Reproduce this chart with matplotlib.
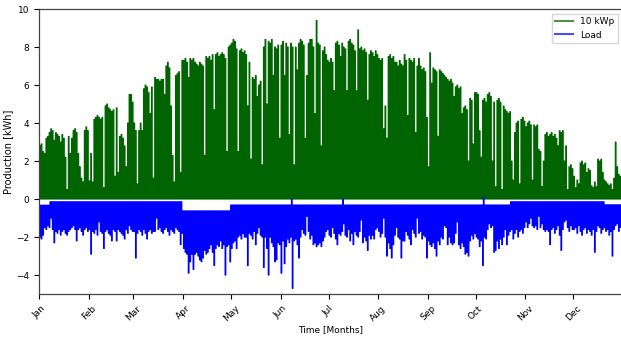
import numpy as np
import pandas as pd
import matplotlib
matplotlib.use('Agg')
import matplotlib.pyplot as plt
import matplotlib.dates as mdates
from matplotlib.lines import Line2D

# daily peak of PV production [kWh] (10 kWp system)
pv_jan = [2.8, 2.9, 2.5, 2.4, 3.2, 3.3, 3.5, 3.7, 3.6, 3.1, 3.5, 3.4, 3.3, 3.0, 3.4, 3.2,
          2.2, 0.5, 3.3, 2.4, 3.2, 3.6, 3.7, 3.5, 2.4, 1.7, 1.1, 0.9, 3.6, 3.8, 3.6]
pv_feb = [0.95, 2.4, 0.9, 4.2, 4.3, 4.4, 4.3, 4.2, 4.3, 0.6, 4.9, 5.0, 4.8, 4.7, 4.6, 4.7,
          1.2, 4.8, 1.4, 3.3, 3.4, 3.2, 2.8, 1.7, 4.0, 5.5, 5.5, 5.1]
pv_mar = [4.0, 3.6, 0.8, 3.6, 4.0, 3.6, 5.8, 6.0, 5.9, 5.6, 4.5, 5.9, 1.1, 6.4, 6.3, 6.3,
          6.2, 6.3, 6.3, 5.5, 7.0, 7.2, 6.9, 4.9, 2.3, 0.9, 6.5, 6.6, 6.7, 1.4, 7.3]
pv_apr = [7.3, 7.4, 7.2, 6.4, 7.4, 7.3, 7.4, 7.2, 7.1, 7.0, 7.2, 7.1, 7.0, 2.3, 7.5, 7.4,
          7.5, 7.3, 7.6, 4.7, 7.6, 7.7, 7.5, 7.6, 7.7, 7.6, 7.4, 2.5, 8.0, 8.1]
pv_may = [8.2, 8.4, 8.3, 7.9, 2.5, 7.8, 7.9, 7.7, 7.8, 7.6, 4.9, 7.2, 2.1, 6.4, 6.3, 6.5,
          5.4, 6.0, 6.2, 1.8, 8.0, 8.4, 5.0, 8.3, 8.2, 8.4, 6.5, 8.0, 7.9, 8.1, 3.2]
pv_jun = [8.1, 8.3, 6.5, 8.2, 8.0, 3.4, 8.2, 8.0, 1.8, 8.0, 6.8, 8.2, 8.4, 8.3, 8.1, 3.2,
          6.5, 8.2, 8.4, 8.4, 8.0, 4.5, 9.4, 8.2, 8.1, 2.8, 7.8, 8.0, 7.6, 7.3]
pv_jul = [7.2, 7.4, 7.2, 5.7, 8.2, 8.3, 8.1, 7.5, 8.2, 8.0, 7.9, 5.7, 8.3, 8.4, 8.2, 8.1,
          7.8, 5.7, 8.9, 7.9, 8.0, 7.8, 7.9, 7.7, 5.2, 7.6, 7.8, 7.7, 7.5, 7.8, 7.6]
pv_aug = [7.4, 7.3, 7.4, 3.7, 4.9, 3.2, 7.5, 7.6, 7.4, 7.5, 7.2, 7.2, 7.0, 7.3, 7.1, 7.0,
          7.6, 7.3, 4.4, 7.4, 7.3, 7.2, 7.4, 3.5, 7.0, 7.4, 7.0, 6.8, 6.9, 6.7, 4.3]
pv_sep = [1.7, 7.7, 6.1, 6.9, 6.8, 6.7, 3.3, 6.8, 6.7, 6.6, 6.5, 6.4, 6.3, 6.2, 6.3, 6.1,
          5.4, 5.9, 6.0, 5.8, 5.9, 4.5, 4.8, 4.9, 4.7, 2.0, 5.3, 5.2, 2.9, 5.6]
pv_oct = [5.6, 5.5, 3.6, 2.2, 5.2, 5.3, 5.1, 5.5, 5.6, 5.4, 2.0, 5.1, 0.65, 5.2, 5.3, 5.1,
          0.5, 4.9, 4.7, 4.6, 4.5, 4.6, 2.0, 1.0, 3.5, 4.0, 4.1, 0.8, 4.2, 4.3, 4.1]
pv_nov = [3.8, 4.0, 4.1, 3.9, 1.0, 3.9, 3.8, 3.9, 2.6, 2.5, 0.65, 2.0, 3.4, 3.5, 3.3, 3.4,
          3.5, 3.3, 3.4, 3.2, 2.8, 3.6, 3.5, 3.6, 2.0, 2.8, 0.5, 1.7, 1.8, 1.6]
pv_dec = [1.2, 0.6, 1.0, 0.8, 1.9, 2.0, 1.8, 1.9, 1.4, 1.6, 1.5, 0.7, 0.6, 0.9, 0.65, 2.1,
          2.0, 2.1, 1.4, 1.0, 0.9, 0.8, 0.7, 0.8, 0.5, 1.1, 3.0, 1.7, 1.3, 1.2, 1.3]

# daily minimum of the load (drawn negative) [kWh]
ld_jan = [-2.0, -2.1, -1.9, -1.5, -1.6, -1.4, -1.5, -1.0, -1.6, -2.3, -1.7, -1.8, -1.6, -1.9,
          -1.7, -1.6, -1.8, -1.9, -1.7, -1.6, -1.5, -1.4, -1.6, -2.2, -1.6, -1.5, -1.7, -1.9,
          -1.6, -1.5, -1.7]
ld_feb = [-1.6, -2.9, -1.7, -1.8, -1.6, -1.9, -1.2, -1.7, -1.8, -2.6, -1.7, -1.6, -1.8, -1.9,
          -2.2, -1.6, -1.7, -2.2, -1.6, -1.7, -1.8, -1.9, -2.1, -1.6, -1.8, -1.4, -1.6, -1.7]
ld_mar = [-1.7, -3.1, -1.8, -1.6, -1.7, -1.9, -1.6, -1.8, -2.1, -1.7, -1.6, -1.8, -1.7, -1.7,
          -1.0, -1.6, -1.5, -1.7, -1.8, -1.6, -1.5, -1.7, -1.9, -1.6, -1.7, -1.8, -1.5, -1.6,
          -1.7, -2.4, -1.8]
ld_apr = [-2.6, -2.8, -2.9, -3.9, -3.3, -2.9, -3.7, -2.9, -2.8, -3.0, -3.2, -3.3, -3.1, -2.7,
          -2.9, -2.8, -2.6, -2.4, -2.8, -3.5, -2.6, -2.4, -2.5, -2.2, -2.6, -2.4, -4.0, -2.5,
          -2.4, -3.3]
ld_may = [-2.6, -2.3, -2.2, -2.6, -2.0, -1.9, -2.1, -1.8, -2.0, -2.0, -3.5, -1.8, -1.9, -2.1,
          -1.7, -2.4, -1.8, -1.5, -1.9, -2.0, -3.6, -2.0, -2.6, -4.0, -2.0, -2.3, -2.5, -3.3,
          -3.2, -2.3, -2.4]
ld_jun = [-3.9, -2.2, -3.4, -2.5, -2.1, -2.3, -2.0, -4.7, -2.2, -2.1, -2.4, -3.1, -2.0, -1.6,
          -1.8, -1.9, -0.9, -1.7, -2.1, -1.9, -2.4, -2.3, -2.5, -2.4, -2.3, -2.5, -2.2, -2.0,
          -1.7, -1.6]
ld_jul = [-1.9, -2.0, -1.5, -1.8, -2.1, -2.4, -1.8, -1.9, -1.7, -1.3, -1.9, -2.0, -1.6, -2.2,
          -1.8, -2.4, -1.7, -1.9, -2.0, -1.7, -1.1, -2.3, -2.0, -2.2, -2.7, -1.9, -2.1, -1.9,
          -2.1, -1.6, -1.5]
ld_aug = [-1.7, -2.0, -1.8, -1.0, -2.0, -3.0, -2.3, -2.6, -3.1, -2.4, -1.9, -1.5, -2.0, -2.1,
          -3.1, -2.2, -2.2, -1.7, -1.9, -2.1, -2.4, -1.6, -1.8, -2.0, -1.0, -1.8, -1.7, -2.1,
          -1.9, -2.0, -3.1]
ld_sep = [-2.2, -2.4, -2.5, -2.3, -2.6, -3.0, -2.2, -2.4, -2.0, -2.1, -1.4, -1.5, -2.4, -2.0,
          -2.3, -2.4, -2.3, -1.8, -1.2, -2.4, -2.6, -2.3, -2.5, -2.9, -2.8, -3.0, -2.2, -1.9,
          -2.1, -1.8]
ld_oct = [-2.0, -2.1, -2.5, -2.2, -3.5, -2.0, -2.1, -1.6, -1.3, -1.5, -1.4, -2.8, -2.7, -2.2,
          -2.6, -2.1, -2.4, -2.0, -1.6, -2.4, -1.9, -1.7, -1.6, -2.1, -1.8, -1.6, -2.0, -1.7,
          -1.6, -1.8, -1.5]
ld_nov = [-1.2, -1.5, -1.3, -1.0, -1.4, -1.5, -1.4, -1.6, -0.9, -1.5, -1.3, -1.6, -1.7, -1.6,
          -1.7, -2.4, -1.6, -1.5, -1.8, -1.6, -1.4, -1.9, -2.7, -1.6, -1.2, -1.1, -1.5, -1.7,
          -1.4, -1.6]
ld_dec = [-1.6, -1.5, -1.8, -1.4, -1.7, -1.9, -1.6, -1.5, -1.8, -1.6, -1.7, -1.9, -1.6, -2.8,
          -1.7, -1.4, -1.5, -1.8, -1.6, -1.5, -1.7, -1.6, -1.9, -1.7, -3.0, -1.6, -1.4, -1.3,
          -1.7, -1.5, -1.6]

# night-time (base) load level, piecewise from a given day of the year
base_start = [0, 7, 90, 120, 295, 354]
base_level = [-0.32, -0.14, -0.62, -0.31, -0.14, -0.30]

# days where the load line shoots up to ~zero
gap_day = [158, 190, 278]
gap_level = [0.0, 0.0, 0.12]

plt.rcParams['font.size'] = 6.5

pv_peak = np.array(pv_jan + pv_feb + pv_mar + pv_apr + pv_may + pv_jun +
                   pv_jul + pv_aug + pv_sep + pv_oct + pv_nov + pv_dec)
load_min = np.array(ld_jan + ld_feb + ld_mar + ld_apr + ld_may + ld_jun +
                    ld_jul + ld_aug + ld_sep + ld_oct + ld_nov + ld_dec)
n_days = len(pv_peak)

# night / midday points for each day
t = pd.date_range('2019-01-01', periods=2 * n_days + 1, freq='12h')

prod = np.zeros(len(t))
prod[1::2] = pv_peak

base = np.zeros(n_days + 1)
for start, level in zip(base_start, base_level):
    base[start:] = level
for d, level in zip(gap_day, gap_level):
    base[d] = level
load = np.zeros(len(t))
load[0::2] = base
load[1::2] = load_min

fig, ax = plt.subplots(figsize=(6.21, 3.40), dpi=100)
fig.subplots_adjust(left=0.063, right=1.003, bottom=0.135, top=0.9735)

ax.plot(t, prod, color='darkgreen', lw=0.75, drawstyle='steps-mid')
ax.plot(t, load, color='blue', lw=0.75, drawstyle='steps-mid')

ax.set_xlim(t[0], t[-1])
ax.set_ylim(-5, 10)
ax.set_yticks(range(-4, 11, 2))
ax.set_xticks(pd.date_range('2019-01-01', '2019-12-01', freq='MS'))
ax.xaxis.set_major_formatter(mdates.DateFormatter('%b'))
plt.xticks(rotation=45)
ax.set_xlabel('Time [Months]', labelpad=1)
ax.set_ylabel('Production [kWh]', fontsize=7, labelpad=2)

for s in ax.spines.values():
    s.set_color('#444444')
    s.set_linewidth(0.9)

handles = [Line2D([], [], color='darkgreen', alpha=0.7, lw=1.5),
           Line2D([], [], color='blue', alpha=0.7, lw=1.5)]
ax.legend(handles, ['10 kWp', 'Load'], loc='upper right', fontsize=6.5)

fig.savefig('out.png', dpi=100)
